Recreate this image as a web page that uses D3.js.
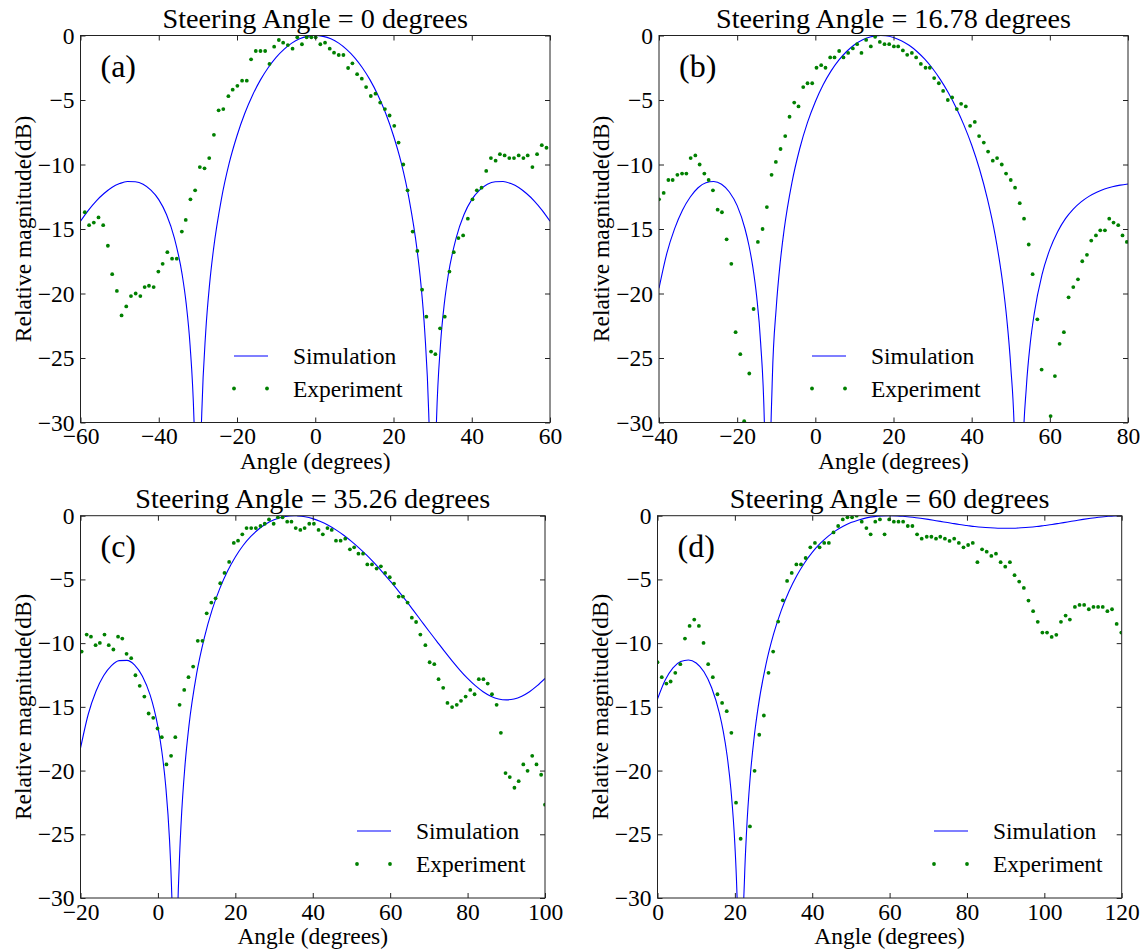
<!DOCTYPE html>
<html>
<head>
<meta charset="utf-8">
<script src="https://cdn.jsdelivr.net/npm/d3@7/dist/d3.min.js"></script>
<style>
  body { margin: 0; background: #fff; }
  svg { display: block; }
</style>
</head>
<body>
<script>
// steering angles and panel tags
const steeringAngles = ["0", "16.78", "35.26", "60"];
const panelTags = ["(a)", "(b)", "(c)", "(d)"];
const seriesNames = ["Simulation", "Experiment"];

// axis ranges and ticks
const xDomainA = [-60, 60], xTicksA = [-60, -40, -20, 0, 20, 40, 60];
const xDomainB = [-40, 80], xTicksB = [-40, -20, 0, 20, 40, 60, 80];
const xDomainC = [-20, 100], xTicksC = [-20, 0, 20, 40, 60, 80, 100];
const xDomainD = [0, 120], xTicksD = [0, 20, 40, 60, 80, 100, 120];
const yTicks = [0, -5, -10, -15, -20, -25, -30];

// (a) simulation
const simAngA = [-60, -58, -56, -54, -52, -50, -48, -46, -44, -42, -40, -38, -36, -34, -33, -32, -31, -30.5, -30, -29.5, -29, -28, -27, -26, -24, -22, -20, -18, -16, -14, -12, -10, -8, -6, -4, -2, 0,
  2, 4, 6, 8, 10, 12, 14, 16, 18, 20, 22, 24, 26, 27, 28, 29, 29.5, 30, 30.5, 31, 32, 33, 34, 36, 38, 40, 42, 44, 46, 48, 50, 52, 54, 56, 58, 60];
const simDbA = [-14.39, -13.55, -12.83, -12.25, -11.78, -11.48, -11.32, -11.34, -11.53, -11.99, -12.72, -13.89, -15.70, -18.56, -20.75, -23.99, -29.74, -35.6, -60, -35.3, -29.24, -23.00, -19.25, -16.56, -12.70, -9.90, -7.77, -6.03, -4.61, -3.44, -2.48, -1.69, -1.07, -0.59, -0.26, -0.07, 0,
  -0.07, -0.26, -0.59, -1.07, -1.69, -2.48, -3.44, -4.61, -6.03, -7.77, -9.90, -12.70, -16.56, -19.25, -23.00, -29.24, -35.3, -60, -35.6, -29.74, -23.99, -20.75, -18.56, -15.70, -13.89, -12.72, -11.99, -11.53, -11.34, -11.32, -11.48, -11.78, -12.25, -12.83, -13.55, -14.39];

// (a) experiment
const expAngA = [-58.9, -57.8, -56.6, -55.4, -54.2, -53.0, -51.9, -50.7, -49.5, -48.3, -47.1, -45.9, -44.7, -43.6, -42.5, -41.3, -40.1, -39.0, -37.8, -36.6, -35.4, -34.1, -33.1, -31.9, -30.7, -29.5, -28.3, -27.1, -25.9, -24.7,
  -23.5, -22.2, -21.1, -19.9, -18.7, -17.5, -16.4, -15.2, -14.0, -12.8, -11.7, -10.5, -9.3, -8.2, -7.0, -5.8, -4.6, -3.4, -2.2, -1.0, 0.1, 1.3, 2.5, 3.7, 4.8, 6.0, 7.2, 8.4, 9.5, 10.7,
  11.9, 13.0, 14.2, 15.4, 16.6, 17.8, 19.0, 20.2, 21.3, 22.5, 23.6, 24.9, 26.1, 27.3, 28.4, 29.6, 30.7, 31.9, 33.1, 34.3, 35.4, 36.6, 37.8, 39.0, 40.2, 41.3, 42.5, 43.7, 44.9, 46.1,
  47.2, 48.4, 49.6, 50.8, 52.0, 53.2, 54.3, 55.5, 56.7, 57.9, 59.1];
const expDbA = [-13.7, -14.7, -14.5, -14.1, -14.7, -16.3, -18.5, -19.8, -21.7, -21.0, -20.2, -20.0, -20.2, -19.5, -19.4, -19.5, -18.3, -17.7, -16.8, -17.3, -17.3, -15.2, -14.3, -12.7, -12.0, -10.2, -10.3, -9.5, -7.7, -5.8,
  -5.7, -4.7, -4.2, -3.9, -3.5, -3.5, -1.85, -1.2, -1.2, -1.2, -2.2, -0.87, -0.35, -0.56, -0.74, -1.02, -0.14, -0.68, -0.14, -0.14, -0.14, -0.68, -0.56, -1.02, -1.33, -1.51, -1.51, -2.52, -2.16, -3.0,
  -3.35, -4.0, -4.69, -4.51, -5.2, -5.7, -6.2, -7.0, -8.3, -10.0, -12.0, -15.2, -16.7, -19.7, -21.8, -24.5, -24.7, -22.7, -21.8, -18.3, -16.8, -15.7, -15.5, -14.2, -12.7, -12.0, -11.8, -10.5, -9.5, -9.7,
  -9.2, -9.3, -9.5, -9.5, -9.3, -9.5, -9.3, -10.2, -9.2, -8.5, -8.7];

// (b) simulation
const simAngB = [-40, -38, -36, -34, -32, -30, -28, -26, -24, -22, -20, -18, -17, -16, -15, -14, -13, -12.5, -12.2, -12, -11, -10, -9, -8, -6, -4, -2, 0, 2, 4, 6, 8, 10, 12, 14, 16, 16.78,
  18, 20, 22, 24, 26, 28, 30, 32, 34, 36, 38, 40, 42, 44, 46, 47, 48, 49, 50, 51, 52, 52.06, 53, 54, 55, 56, 58, 60, 62, 64, 66, 68, 70, 72, 74, 76, 78, 80];
const simDbB = [-19.6, -16.89, -14.97, -13.54, -12.52, -11.80, -11.42, -11.32, -11.53, -12.13, -13.19, -14.98, -16.26, -17.94, -20.26, -23.81, -30.53, -39, -60, -42.4, -26.56, -21.09, -17.64, -15.09, -11.42, -8.78, -6.74, -5.13, -3.82, -2.76, -1.91, -1.24, -0.72, -0.35, -0.12, -0.01, 0,
  -0.02, -0.15, -0.40, -0.76, -1.24, -1.84, -2.56, -3.42, -4.42, -5.58, -6.93, -8.49, -10.35, -12.62, -15.45, -17.24, -19.34, -22.01, -25.66, -31.63, -55, -60, -33.3, -27.21, -23.83, -21.58, -18.54, -16.58, -15.21, -14.20, -13.46, -12.90, -12.47, -12.15, -11.90, -11.73, -11.60, -11.51];

// (b) experiment
const expAngB = [-40.0, -38.8, -37.6, -36.5, -35.3, -34.1, -33.0, -31.9, -30.7, -29.6, -28.4, -27.3, -26.2, -25.0, -23.9, -22.7, -21.5, -20.4, -19.2, -18.2, -16.9, -15.8, -14.7, -13.5, -12.4, -11.2, -10.1, -8.9, -7.7, -6.6,
  -5.4, -4.3, -3.1, -2.0, -0.8, 0.3, 1.5, 2.6, 3.8, 4.9, 6.1, 7.2, 8.4, 9.6, 10.7, 11.8, 13.0, 14.2, 15.3, 16.5, 17.7, 18.9, 20.1, 21.2, 22.4, 23.5, 24.7, 25.8, 27.0, 28.2,
  29.3, 30.4, 31.6, 32.7, 33.9, 35.0, 36.2, 37.3, 38.5, 39.6, 40.8, 41.9, 43.1, 44.2, 45.4, 46.5, 47.7, 48.8, 50.0, 51.1, 52.3, 53.4, 54.6, 55.6, 56.8, 57.9, 60.2, 61.3, 62.5, 63.6,
  64.8, 66.0, 67.2, 68.3, 69.5, 70.6, 71.8, 72.9, 74.1, 75.2, 76.3, 77.5, 78.6, 79.7];
const expDbB = [-12.7, -12.2, -11.2, -11.2, -10.8, -10.7, -10.7, -9.5, -9.3, -10.0, -10.7, -11.2, -12.0, -13.5, -13.7, -15.8, -17.7, -23.0, -24.7, -29.9, -26.2, -21.2, -16.0, -15.0, -13.3, -10.8, -9.8, -8.8, -7.8, -6.3,
  -5.2, -5.5, -4.0, -3.7, -3.7, -2.5, -2.3, -2.5, -1.7, -1.7, -1.2, -1.7, -1.35, -1.0, -0.67, -1.35, -0.34, -0.85, -0.1, -0.5, -0.67, -0.67, -0.85, -0.85, -1.16, -1.5, -1.35, -1.7, -2.2, -2.5,
  -2.5, -3.3, -3.7, -4.3, -5.0, -4.8, -5.7, -5.3, -5.5, -7.0, -6.7, -7.8, -8.3, -9.0, -9.7, -9.5, -10.0, -10.7, -11.2, -11.8, -13.0, -14.2, -16.2, -18.5, -22.0, -25.9, -29.5, -26.4, -23.9, -23.0,
  -20.3, -19.5, -18.9, -17.5, -17.0, -15.9, -15.5, -15.1, -15.1, -14.2, -14.5, -14.7, -15.5, -16.0];

// (c) simulation
const simAngC = [-20, -18, -16, -14, -12, -10, -8, -6, -4, -2, -1, 0, 1, 2, 3, 3.5, 4, 4.44, 5, 5.5, 6, 7, 8, 10, 12, 14, 16, 18, 20, 22, 24, 26, 28, 30, 32, 34, 35.26,
  36, 38, 40, 42, 44, 46, 48, 50, 52, 54, 56, 58, 60, 62, 64, 66, 68, 70, 72, 74, 76, 78, 80, 82, 84, 86, 88, 90, 92, 94, 96, 98, 100];
const simDbC = [-18.25, -15.58, -13.77, -12.54, -11.76, -11.37, -11.35, -11.72, -12.59, -14.08, -15.16, -16.57, -18.47, -21.15, -25.45, -29.0, -35.5, -60, -33.1, -27.5, -24.07, -19.57, -16.53, -12.40, -9.56, -7.39, -5.70, -4.34, -3.24, -2.34, -1.63, -1.06, -0.63, -0.32, -0.12, -0.02, 0,
  -0.01, -0.08, -0.23, -0.46, -0.75, -1.11, -1.53, -2.01, -2.54, -3.12, -3.75, -4.42, -5.13, -5.86, -6.63, -7.43, -8.24, -9.05, -9.84, -10.63, -11.39, -12.11, -12.77, -13.34, -13.81, -14.16, -14.38, -14.45, -14.38, -14.16, -13.81, -13.34, -12.77];

// (c) experiment
const expAngC = [-19.7, -18.4, -17.3, -16.1, -15.0, -13.8, -12.7, -11.5, -10.3, -9.2, -8.1, -6.9, -5.8, -4.7, -3.5, -2.4, -1.2, -0.1, 1.0, 2.2, 3.4, 4.5, 5.6, 6.8, 7.9, 9.1, 10.3, 11.5, 12.6, 13.8,
  14.9, 16.1, 17.2, 18.4, 19.6, 20.7, 21.8, 22.9, 24.1, 25.3, 26.5, 27.6, 28.7, 29.9, 31.0, 32.2, 33.4, 34.5, 35.6, 36.8, 37.9, 39.1, 40.3, 41.5, 42.6, 43.8, 44.9, 46.0, 47.2, 48.4,
  49.6, 50.7, 51.8, 53.0, 54.1, 55.3, 56.5, 57.6, 58.7, 59.9, 61.0, 62.2, 63.3, 64.5, 65.6, 66.7, 67.8, 69.1, 70.2, 71.4, 72.5, 73.7, 74.8, 76.0, 77.2, 78.3, 79.5, 80.7, 81.8, 82.9,
  84.1, 85.2, 86.3, 87.5, 88.6, 89.8, 90.9, 92.1, 93.2, 94.4, 95.5, 96.7, 97.8, 99.0, 100.0];
const expDbC = [-10.66, -9.33, -9.49, -10.16, -9.98, -9.33, -10.16, -10.50, -9.49, -9.64, -10.84, -11.18, -12.52, -13.35, -14.19, -15.52, -15.86, -16.70, -17.38, -19.52, -18.84, -17.38, -14.84, -13.67, -12.67, -11.84, -9.82, -9.82, -7.66, -6.82,
  -6.48, -5.30, -4.49, -3.63, -2.14, -1.96, -1.46, -0.97, -0.97, -0.97, -0.81, -0.63, -0.29, -0.63, -0.13, -0.13, -0.47, -0.47, -0.97, -1.12, -0.97, -0.63, -0.63, -1.12, -1.46, -0.97, -1.12, -1.96, -1.96, -1.80,
  -2.64, -2.48, -2.98, -2.98, -3.82, -3.82, -4.15, -3.97, -4.49, -4.83, -5.33, -6.35, -6.35, -6.82, -8.00, -8.34, -9.33, -10.16, -11.50, -11.65, -12.83, -13.51, -14.69, -15.02, -14.84, -14.53, -14.19, -13.67, -14.01, -12.83,
  -12.83, -13.17, -14.01, -14.84, -17.04, -20.20, -20.51, -21.35, -20.83, -19.52, -20.02, -18.84, -19.52, -20.33, -22.68];

// (d) simulation
const simAngD = [0, 2, 4, 6, 8, 10, 12, 14, 16, 17, 18, 19, 20, 20.5, 21, 21.47, 22, 22.5, 23, 24, 25, 26, 28, 30, 32, 34, 36, 38, 40, 42, 44, 46, 48, 50, 52, 54, 56, 58, 60,
  62, 64, 66, 68, 70, 72, 74, 76, 78, 80, 82, 84, 86, 88, 90, 92, 94, 96, 98, 100, 102, 104, 106, 108, 110, 112, 114, 116, 118, 120];
const simDbD = [-14.39, -12.90, -11.94, -11.45, -11.32, -11.56, -12.25, -13.50, -15.50, -16.93, -18.84, -21.55, -25.81, -29.3, -35.5, -60, -34.3, -28.4, -24.90, -20.38, -17.35, -15.06, -11.72, -9.30, -7.43, -5.93, -4.71, -3.71, -2.88, -2.20, -1.64, -1.19, -0.83, -0.54, -0.33, -0.17, -0.07, -0.02, 0,
  -0.01, -0.06, -0.12, -0.20, -0.29, -0.39, -0.49, -0.59, -0.69, -0.77, -0.85, -0.91, -0.95, -0.98, -0.99, -0.98, -0.95, -0.91, -0.85, -0.77, -0.69, -0.59, -0.49, -0.39, -0.29, -0.20, -0.12, -0.06, -0.01, 0];

// (d) experiment
const expAngD = [0.0, 1.1, 2.3, 3.4, 4.6, 5.9, 7.1, 8.3, 9.5, 10.7, 11.9, 13.1, 14.3, 15.5, 16.7, 17.9, 19.1, 20.3, 21.5, 23.9, 25.1, 26.3, 27.5, 28.7, 29.9, 31.2, 32.4, 33.5, 34.7, 35.9,
  37.1, 38.3, 39.5, 40.7, 41.9, 43.1, 44.3, 45.5, 46.7, 47.9, 49.1, 50.3, 51.5, 52.8, 54.0, 55.1, 56.3, 57.5, 58.7, 59.9, 61.1, 62.3, 63.5, 64.7, 65.9, 67.1, 68.3, 69.6, 70.8, 72.0,
  73.1, 74.3, 75.5, 76.7, 77.9, 79.1, 80.3, 81.5, 82.7, 83.9, 85.1, 86.3, 87.5, 88.7, 89.9, 91.1, 92.3, 93.5, 94.7, 95.9, 97.1, 98.3, 99.5, 100.7, 101.9, 103.1, 104.3, 105.5, 106.6, 107.9,
  109.1, 110.3, 111.5, 112.7, 113.9, 115.1, 116.3, 117.5, 118.7, 119.9];
const expDbD = [-11.50, -12.67, -13.17, -13.01, -12.33, -11.65, -9.64, -8.65, -8.15, -8.65, -9.98, -11.65, -12.67, -14.01, -14.69, -15.34, -17.04, -22.52, -25.35, -24.38, -20.02, -17.19, -15.68, -12.33, -10.66, -8.31, -6.64, -5.12, -4.49, -3.82,
  -3.82, -3.32, -2.48, -2.14, -2.48, -2.14, -2.14, -1.31, -0.81, -0.29, -0.13, -0.13, 0, -0.47, -0.97, -1.46, -0.47, -0.29, -1.46, -0.29, -0.47, -0.47, -0.47, -0.81, -0.81, -1.46, -1.80, -1.65, -1.65, -1.80,
  -1.65, -1.80, -1.98, -1.80, -2.14, -2.48, -2.30, -2.14, -3.65, -2.64, -2.82, -3.16, -2.98, -3.65, -4.00, -3.65, -4.67, -5.17, -5.67, -6.66, -7.49, -8.33, -9.17, -9.17, -9.51, -9.35, -8.33, -7.84, -8.15, -7.16,
  -7.00, -7.00, -7.34, -7.16, -7.16, -7.16, -7.49, -7.34, -8.49, -9.17];


window.onload = function() {

  const width = 1143;
  const height = 950;
  const font = "'Liberation Serif', 'Times New Roman', Times, serif";
  const baseSize = 23.5;

  // where each subplot sits on the page
  const frames = [
    {left: 80.5, right: 550, top: 35.5, bottom: 422.5, legendX: 234},
    {left: 659, right: 1128, top: 35.5, bottom: 422.5, legendX: 812},
    {left: 80.5, right: 545, top: 515.7, bottom: 898, legendX: 357},
    {left: 657.5, right: 1121.7, top: 515.7, bottom: 898, legendX: 934}
  ];

  const panels = [
    {domain: xDomainA, ticks: xTicksA, simX: simAngA, simY: simDbA, expX: expAngA, expY: expDbA},
    {domain: xDomainB, ticks: xTicksB, simX: simAngB, simY: simDbB, expX: expAngB, expY: expDbB},
    {domain: xDomainC, ticks: xTicksC, simX: simAngC, simY: simDbC, expX: expAngC, expY: expDbC},
    {domain: xDomainD, ticks: xTicksD, simX: simAngD, simY: simDbD, expX: expAngD, expY: expDbD}
  ];

  const svg = d3.select("body").append("svg")
      .attr("width", width)
      .attr("height", height)
      .style("font-family", font);

  svg.append("rect")
      .attr("width", width)
      .attr("height", height)
      .attr("fill", "#fff");

  panels.forEach(function(p, i) {
    const f = frames[i];
    const w = f.right - f.left;
    const h = f.bottom - f.top;

    const x = d3.scaleLinear().domain(p.domain).range([0, w]);
    const y = d3.scaleLinear().domain([-30, 0]).range([h, 0]);

    const g = svg.append("g")
        .attr("transform", "translate(" + f.left + "," + f.top + ")");

    // clip so that the nulls do not run below the frame
    g.append("clipPath")
        .attr("id", "clip" + i)
      .append("rect")
        .attr("width", w)
        .attr("height", h);

    const plot = g.append("g").attr("clip-path", "url(#clip" + i + ")");

    // simulation curve
    const sim = p.simX.map((a, k) => [a, p.simY[k]]);
    plot.append("path")
        .datum(sim)
        .attr("fill", "none")
        .attr("stroke", "#0000ff")
        .attr("stroke-width", 1.1)
        .attr("d", d3.line()
          .x(d => x(d[0]))
          .y(d => y(d[1]))
          .curve(d3.curveMonotoneX));

    // measured points
    const exp = p.expX.map((a, k) => [a, p.expY[k]]);
    plot.selectAll("circle")
        .data(exp)
        .enter()
        .append("circle")
        .attr("cx", d => x(d[0]))
        .attr("cy", d => y(d[1]))
        .attr("r", 1.9)
        .attr("fill", "#008000");

    // axes, ticks pointing inwards on all four sides
    const bottomAxis = g.append("g")
        .attr("transform", "translate(0," + h + ")")
        .call(d3.axisBottom(x).tickValues(p.ticks).tickSizeInner(-5).tickSizeOuter(0).tickPadding(5));
    const leftAxis = g.append("g")
        .call(d3.axisLeft(y).tickValues(yTicks).tickSizeInner(-5).tickSizeOuter(0).tickPadding(6));
    g.append("g")
        .call(d3.axisTop(x).tickValues(p.ticks).tickSizeInner(-5).tickSizeOuter(0).tickFormat(""));
    g.append("g")
        .attr("transform", "translate(" + w + ",0)")
        .call(d3.axisRight(y).tickValues(yTicks).tickSizeInner(-5).tickSizeOuter(0).tickFormat(""));

    g.selectAll(".domain").remove();
    g.selectAll(".tick line").attr("stroke", "#222");
    [bottomAxis, leftAxis].forEach(function(a) {
      a.selectAll("text")
          .style("font-family", font)
          .style("font-size", baseSize + "px")
          .attr("fill", "#000");
    });

    // frame
    g.append("rect")
        .attr("width", w)
        .attr("height", h)
        .attr("fill", "none")
        .attr("stroke", "#222")
        .attr("stroke-width", 1);

    // title
    g.append("text")
        .attr("x", w / 2)
        .attr("y", -8)
        .attr("text-anchor", "middle")
        .style("font-size", "28.2px")
        .text("Steering Angle = " + steeringAngles[i] + " degrees");

    // x label
    g.append("text")
        .attr("x", w / 2)
        .attr("y", h + 46)
        .attr("text-anchor", "middle")
        .style("font-size", baseSize + "px")
        .text("Angle (degrees)");

    // y label
    g.append("text")
        .attr("transform", "translate(" + (-50) + "," + (h / 2) + ") rotate(-90)")
        .attr("text-anchor", "middle")
        .style("font-size", baseSize + "px")
        .text("Relative magnitude(dB)");

    // panel tag
    g.append("text")
        .attr("x", 20)
        .attr("y", 41)
        .style("font-size", "32px")
        .text(panelTags[i]);

    // legend, line placed on a whole pixel so it blends like the original
    const lx = f.legendX - f.left;
    const ly1 = Math.round(f.top + h - 67) - f.top;
    const ly2 = h - 34;
    g.append("line")
        .attr("x1", lx)
        .attr("x2", lx + 34)
        .attr("y1", ly1)
        .attr("y2", ly1)
        .attr("stroke", "#0000ff")
        .attr("stroke-width", 1.1);
    g.selectAll(".legdot")
        .data([lx, lx + 33])
        .enter()
        .append("circle")
        .attr("class", "legdot")
        .attr("cx", d => d)
        .attr("cy", ly2)
        .attr("r", 1.9)
        .attr("fill", "#008000");
    g.selectAll(".legtext")
        .data(seriesNames)
        .enter()
        .append("text")
        .attr("class", "legtext")
        .attr("x", lx + 59)
        .attr("y", (d, k) => (k === 0 ? ly1 : ly2) + 8)
        .style("font-size", baseSize + "px")
        .text(d => d);
  });
}
</script>
</body>
</html>
